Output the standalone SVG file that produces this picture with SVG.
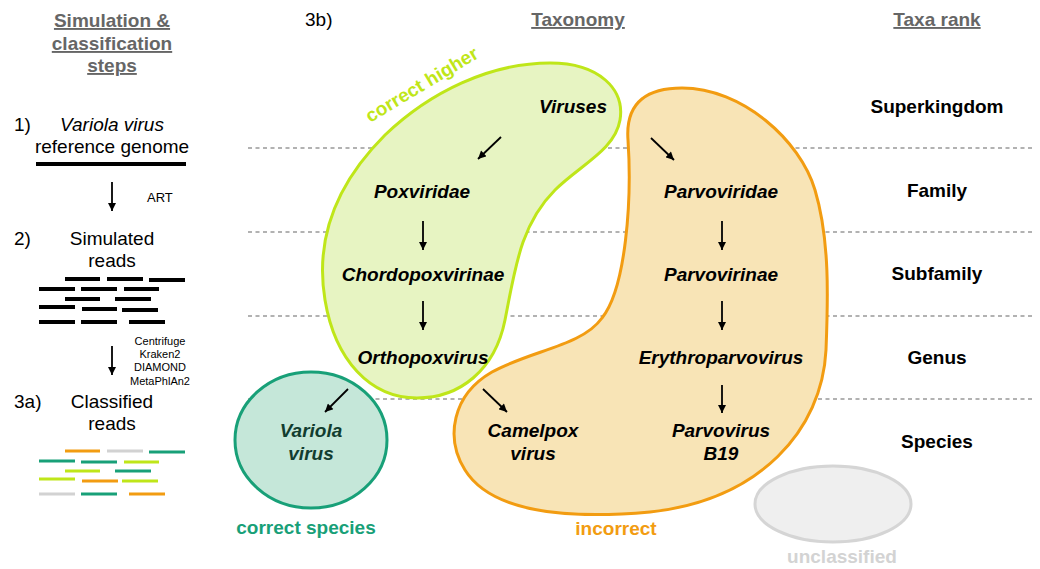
<svg xmlns="http://www.w3.org/2000/svg" width="1040" height="569" viewBox="0 0 1040 569">
<style>
text{font-family:"Liberation Sans",Arial,sans-serif}
.hdr{font-size:19px;font-weight:bold;fill:#666;text-anchor:middle;text-decoration:underline}
.reg{font-size:19px;fill:#000}
.mid{text-anchor:middle}
.tax{font-size:19px;font-weight:bold;font-style:italic;fill:#000;text-anchor:middle}
.rank{font-size:19px;font-weight:bold;fill:#000;text-anchor:middle}
.small{font-size:11px;fill:#000;text-anchor:middle}
.dash{stroke:#999;stroke-width:1.5;stroke-dasharray:4 3.5;fill:none}
.arr{stroke:#000;stroke-width:1.8;fill:none;marker-end:url(#ah)}
.bk{stroke:#000;stroke-width:4}
.cb{stroke-width:3}
.o{stroke:#F29C11}.g{stroke:#D2D2D2}.t{stroke:#18A078}.l{stroke:#BFE619}
</style>
<defs>
<marker id="ah" viewBox="0 0 10 10" refX="10" refY="5" markerWidth="9" markerHeight="8" markerUnits="userSpaceOnUse" orient="auto"><path d="M0,0 L10,5 L0,10 z" fill="#000"/></marker>
</defs>
<rect width="1040" height="569" fill="#fff"/>

<g id="left-steps">
<text class="hdr" x="112" y="27">Simulation &amp;</text>
<text class="hdr" x="112" y="50">classification</text>
<text class="hdr" x="112" y="72">steps</text>
<text class="reg" x="14" y="131">1)</text>
<text class="reg mid" x="112" y="131" font-style="italic">Variola virus</text>
<text class="reg mid" x="112" y="153">reference genome</text>
<line class="bk" x1="36" y1="164" x2="186" y2="164"/>
<text font-size="13" x="147" y="202">ART</text>
<text class="reg" x="14" y="245">2)</text>
<text class="reg mid" x="112" y="245">Simulated</text>
<text class="reg mid" x="112" y="267">reads</text>
<g class="bk">
<line x1="65" y1="279" x2="100" y2="279"/><line x1="107" y1="279" x2="143" y2="279"/><line x1="149" y1="280" x2="185" y2="280"/>
<line x1="39" y1="289" x2="75" y2="289"/><line x1="81" y1="289" x2="117" y2="289"/><line x1="124" y1="289" x2="159" y2="289"/>
<line x1="65" y1="299" x2="100" y2="299"/><line x1="115" y1="299" x2="151" y2="299"/>
<line x1="39" y1="307" x2="75" y2="307"/><line x1="82" y1="309" x2="117" y2="309"/><line x1="122" y1="310" x2="158" y2="310"/>
<line x1="39" y1="322" x2="75" y2="322"/><line x1="81" y1="322" x2="117" y2="322"/><line x1="129" y1="322" x2="165" y2="322"/>
</g>
<text class="small" x="160" y="345">Centrifuge</text>
<text class="small" x="160" y="358">Kraken2</text>
<text class="small" x="160" y="371">DIAMOND</text>
<text class="small" x="160" y="385">MetaPhlAn2</text>
<text class="reg" x="14" y="408">3a)</text>
<text class="reg mid" x="112" y="408">Classified</text>
<text class="reg mid" x="112" y="430">reads</text>
<g class="cb">
<line class="o" x1="65" y1="451" x2="100" y2="451"/><line class="g" x1="107" y1="451" x2="143" y2="451"/><line class="t" x1="149" y1="452" x2="185" y2="452"/>
<line class="t" x1="39" y1="461" x2="75" y2="461"/><line class="t" x1="81" y1="462" x2="117" y2="462"/><line class="l" x1="124" y1="462" x2="159" y2="462"/>
<line class="l" x1="65" y1="471" x2="100" y2="471"/><line class="t" x1="115" y1="471" x2="151" y2="471"/>
<line class="l" x1="39" y1="479" x2="75" y2="479"/><line class="o" x1="82" y1="481" x2="118" y2="481"/><line class="l" x1="122" y1="481" x2="158" y2="481"/>
<line class="g" x1="39" y1="494" x2="75" y2="494"/><line class="t" x1="81" y1="494" x2="117" y2="494"/><line class="o" x1="129" y1="494" x2="165" y2="494"/>
</g>
</g>

<g id="headers">
<text class="reg" x="305" y="26" font-size="18">3b)</text>
<text class="hdr" x="578" y="26">Taxonomy</text>
<text class="hdr" x="937" y="26">Taxa rank</text>
</g>

<g id="rank-lines">
<line class="dash" x1="248" y1="148" x2="1033" y2="148"/>
<line class="dash" x1="248" y1="232" x2="1033" y2="232"/>
<line class="dash" x1="248" y1="316" x2="1033" y2="316"/>
<line class="dash" x1="248" y1="399" x2="1033" y2="399"/>
</g>

<g id="group-incorrect">
<path d="M628,140 C625,100 650,88 682,88 C742,88 800,140 815,190 C830,240 828,300 826,350 C822,430 760,500 650,512 C560,520 490,510 465,470 C445,438 452,395 492,372 C532,350 582,346 602,318 C626,288 632,200 628,140 Z" fill="#F8E4B6" stroke="#F29C11" stroke-width="3"/>
<text x="616" y="535" font-size="19" font-weight="bold" fill="#F29C11" text-anchor="middle">incorrect</text>
</g>

<g id="group-correct-higher">
<path d="M550,63 C600,63 625,90 620,120 C615,150 580,165 555,190 C520,225 515,270 505,320 C495,370 460,398 417,398 C370,398 335,360 325,300 C315,240 335,185 385,135 C430,92 490,63 550,63 Z" fill="#E7F4C2" stroke="#BFE619" stroke-width="3"/>
<text x="425" y="90" font-size="19" font-weight="bold" fill="#BFE619" text-anchor="middle" transform="rotate(-31 425 90)">correct higher</text>
</g>

<g id="group-correct-species">
<ellipse cx="311" cy="440" rx="76" ry="68" fill="#C5E7D9" stroke="#18A078" stroke-width="3"/>
<text x="306" y="534" font-size="19" font-weight="bold" fill="#18A078" text-anchor="middle">correct species</text>
</g>

<g id="group-unclassified">
<ellipse cx="833" cy="504" rx="78" ry="38" fill="#EFEFEF" stroke="#D5D5D5" stroke-width="3"/>
<text x="842" y="563" font-size="19" font-weight="bold" fill="#D3D3D3" text-anchor="middle">unclassified</text>
</g>

<g id="node-viruses"><text class="tax" x="573" y="113">Viruses</text></g>
<g id="node-poxviridae"><text class="tax" x="422" y="198">Poxviridae</text></g>
<g id="node-chordopoxvirinae"><text class="tax" x="423" y="281">Chordopoxvirinae</text></g>
<g id="node-orthopoxvirus"><text class="tax" x="423" y="364">Orthopoxvirus</text></g>
<g id="node-variola"><text class="tax" x="311" y="437" style="fill:#123D30">Variola</text><text class="tax" x="311" y="460" style="fill:#123D30">virus</text></g>
<g id="node-camelpox"><text class="tax" x="533" y="437">Camelpox</text><text class="tax" x="533" y="460">virus</text></g>
<g id="node-parvoviridae"><text class="tax" x="721" y="198">Parvoviridae</text></g>
<g id="node-parvovirinae"><text class="tax" x="721" y="281">Parvovirinae</text></g>
<g id="node-erythroparvovirus"><text class="tax" x="721" y="364">Erythroparvovirus</text></g>
<g id="node-b19"><text class="tax" x="721" y="437">Parvovirus</text><text class="tax" x="721" y="460">B19</text></g>

<g id="ranks">
<text class="rank" x="937" y="113">Superkingdom</text>
<text class="rank" x="937" y="197">Family</text>
<text class="rank" x="937" y="280">Subfamily</text>
<text class="rank" x="937" y="364">Genus</text>
<text class="rank" x="937" y="448">Species</text>
</g>

<g id="connectors">
<line class="arr" x1="112" y1="182" x2="112" y2="211"/>
<line class="arr" x1="112" y1="346" x2="112" y2="375"/>
<line class="arr" x1="501" y1="137" x2="478" y2="159"/>
<line class="arr" x1="423" y1="221" x2="423" y2="250"/>
<line class="arr" x1="423" y1="301" x2="423" y2="330"/>
<line class="arr" x1="348" y1="389" x2="325" y2="412"/>
<line class="arr" x1="483" y1="389" x2="507" y2="412"/>
<line class="arr" x1="651" y1="138" x2="674" y2="160"/>
<line class="arr" x1="722" y1="221" x2="722" y2="250"/>
<line class="arr" x1="722" y1="301" x2="722" y2="330"/>
<line class="arr" x1="722" y1="385" x2="722" y2="413"/>
</g>
</svg>
